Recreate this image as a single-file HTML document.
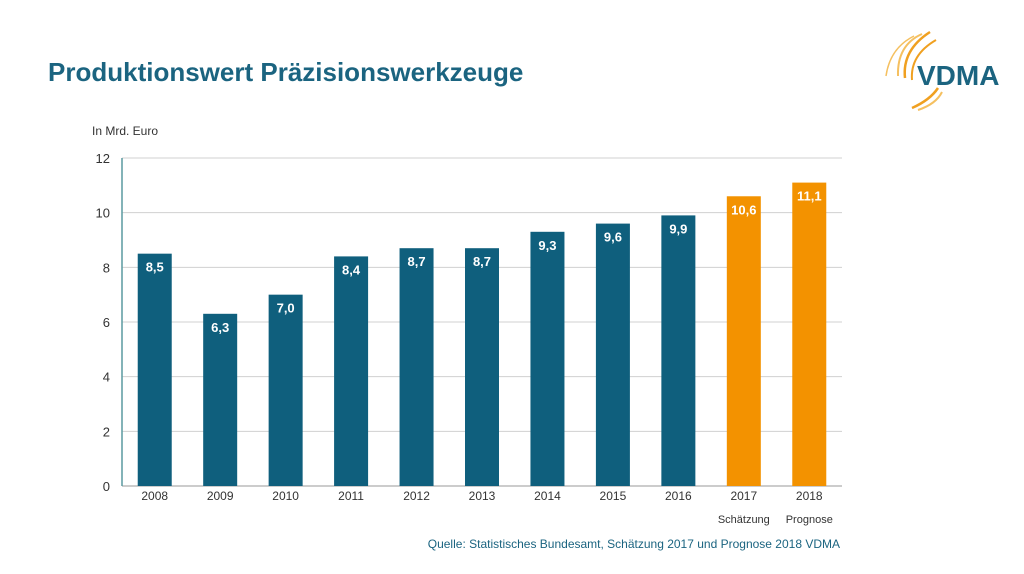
<!DOCTYPE html>
<html><head><meta charset="utf-8"><style>
body{margin:0;background:#fff;width:1024px;height:569px;overflow:hidden;font-family:"Liberation Sans",sans-serif}
</style></head><body>
<svg width="1024" height="569" font-family="Liberation Sans, sans-serif">
<text x="48" y="81" font-size="26" font-weight="bold" fill="#1b6480">Produktionswert Präzisionswerkzeuge</text>
<g>
<path d="M905,78 Q902,50 930,32" stroke="#f0a020" stroke-width="2.5" fill="none"/>
<path d="M898,76 Q897,45 922,34" stroke="#f5c060" stroke-width="2" fill="none"/>
<path d="M912,80 Q910,55 936,40" stroke="#f0a020" stroke-width="2" fill="none"/>
<path d="M886,76 Q890,48 914,36" stroke="#f5c060" stroke-width="1.5" fill="none"/>
<path d="M912,108 Q930,100 938,88" stroke="#f0a020" stroke-width="2.5" fill="none"/>
<path d="M918,110 Q936,104 942,92" stroke="#f5c060" stroke-width="2" fill="none"/>
<text x="917" y="85" font-size="28" font-weight="bold" fill="#1b6480">VDMA</text>
</g>
<text x="92" y="135" font-size="12" fill="#333">In Mrd. Euro</text>
<g id="grid"></g><g id="bars"></g><g id="xl"></g>
<text x="840" y="548" font-size="12" fill="#1b6480" text-anchor="end">Quelle: Statistisches Bundesamt, Schätzung 2017 und Prognose 2018 VDMA</text>
</svg>
<script>
const categories=["2008","2009","2010","2011","2012","2013","2014","2015","2016","2017","2018"];
const values=[8.5,6.3,7.0,8.4,8.7,8.7,9.3,9.6,9.9,10.6,11.1];
const valueLabels=["8,5","6,3","7,0","8,4","8,7","8,7","9,3","9,6","9,9","10,6","11,1"];
const subLabels=["","","","","","","","","","Schätzung","Prognose"];
const yTicks=[0,2,4,6,8,10,12];
const NS="http://www.w3.org/2000/svg";
const x0=122,x1=842,yb=486,yt=158,ymax=12;
const y=v=>yb-(yb-yt)*v/ymax;
const slot=(x1-x0)/categories.length;
const bx=i=>x0+slot*(i+0.5);
function mk(t,a,p,txt){const e=document.createElementNS(NS,t);for(const k in a)e.setAttribute(k,a[k]);if(txt!==undefined)e.textContent=txt;p.appendChild(e);return e;}
const g=document.getElementById('grid'),b=document.getElementById('bars'),xl=document.getElementById('xl');
yTicks.forEach(t=>{
 const l=mk('line',{x1:x0,x2:x1,y1:y(t),y2:y(t),stroke:t===0?'#999':'#d0d0d0','stroke-width':1},g);
 
 
 const tx=mk('text',{x:110,y:y(t)+5,'font-size':13,fill:'#333','text-anchor':'end'},g,String(t));
 
 
});
const ax=mk('line',{x1:x0,x2:x0,y1:yt,y2:yb,stroke:'#5a9aa0','stroke-width':1.5},g);


categories.forEach((c,i)=>{
 const col=i>=9?'#f39200':'#0f5f7d';
 const r=mk('rect',{x:bx(i)-17,y:y(values[i]),width:34,height:yb-y(values[i]),fill:col},b);
 
 
 const vl=mk('text',{x:bx(i),y:y(values[i])+18,'font-size':13,'font-weight':'bold',fill:'#fff','text-anchor':'middle'},b,valueLabels[i]);
 
 
 const t=mk('text',{x:bx(i),y:500,'font-size':12,fill:'#333','text-anchor':'middle'},xl,c);
 
 
 if(subLabels[i]){const s=mk('text',{x:bx(i),y:523,'font-size':11,fill:'#333','text-anchor':'middle'},xl,subLabels[i]);
 
 }
});
</script>
</body></html>
